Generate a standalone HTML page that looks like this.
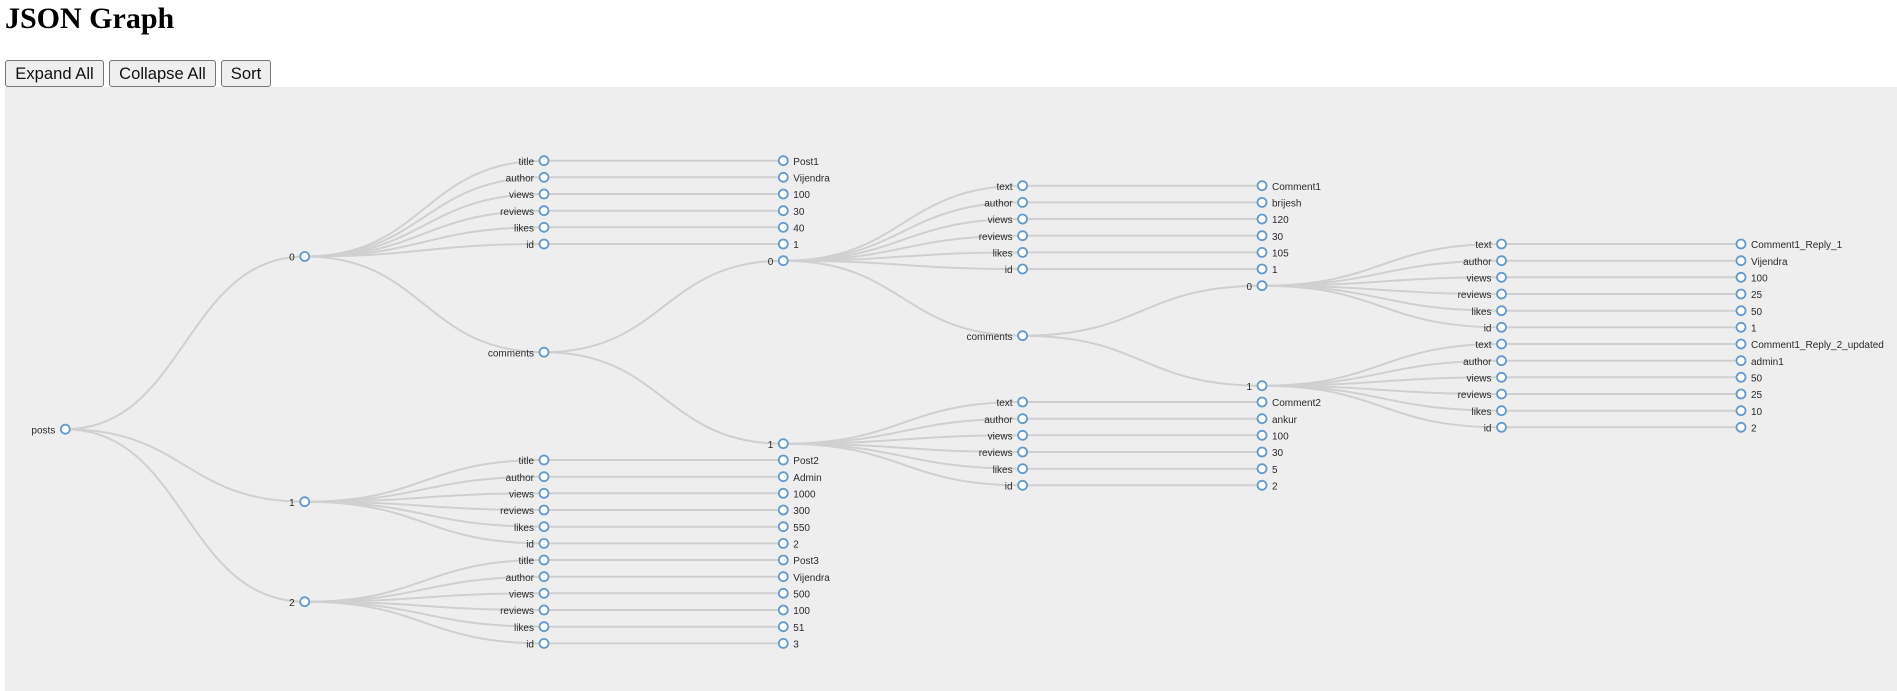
<!DOCTYPE html>
<html>
<head>
<meta charset="utf-8">
<title>JSON Graph</title>
<style>
html,body{margin:0;padding:0;background:#fff;width:1897px;height:691px;overflow:hidden}
h1{position:absolute;left:5px;top:0;margin:0;font:bold 30px/37px "Liberation Serif",serif;color:#000}
button{position:absolute;top:60px;height:27px;padding:0;margin:0;box-sizing:border-box;font:16.6px "Liberation Sans",sans-serif;color:#111;background:#efefef;border:1px solid #767676;border-radius:3px}
svg{position:absolute;left:5px;top:87px;background:#eee}
svg path{fill:none;stroke:#d0d0d0;stroke-width:2px}
svg circle{fill:#fff;stroke:#6699cc;stroke-width:1.8px}
svg text{font:10px "Liberation Sans",sans-serif;fill:#2a2a2a}
.e{text-anchor:end}
.b{filter:blur(.35px)}
</style>
</head>
<body>
<h1>JSON Graph</h1>
<button style="left:5px;width:99px">Expand All</button>
<button style="left:109px;width:107px">Collapse All</button>
<button style="left:221px;width:50px">Sort</button>
<svg width="1892" height="604" viewBox="5 87 1892 604">
<g class="b">
<path d="M65.3 429.2C185 429.2 185 256.5 304.7 256.5"/>
<path d="M65.3 429.2C185 429.2 185 501.7 304.7 501.7"/>
<path d="M65.3 429.2C185 429.2 185 601.7 304.7 601.7"/>

<path d="M304.7 256.5C424.3 256.5 424.3 160.7 544 160.7"/>
<path d="M304.7 256.5C424.3 256.5 424.3 177.3 544 177.3"/>
<path d="M304.7 256.5C424.3 256.5 424.3 194 544 194"/>
<path d="M304.7 256.5C424.3 256.5 424.3 210.7 544 210.7"/>
<path d="M304.7 256.5C424.3 256.5 424.3 227.3 544 227.3"/>
<path d="M304.7 256.5C424.3 256.5 424.3 244 544 244"/>
<path d="M304.7 256.5C424.3 256.5 424.3 352.2 544 352.2"/>

<path d="M304.7 501.7C424.3 501.7 424.3 460 544 460"/>
<path d="M304.7 501.7C424.3 501.7 424.3 476.7 544 476.7"/>
<path d="M304.7 501.7C424.3 501.7 424.3 493.3 544 493.3"/>
<path d="M304.7 501.7C424.3 501.7 424.3 510 544 510"/>
<path d="M304.7 501.7C424.3 501.7 424.3 526.7 544 526.7"/>
<path d="M304.7 501.7C424.3 501.7 424.3 543.4 544 543.4"/>

<path d="M304.7 601.7C424.3 601.7 424.3 560 544 560"/>
<path d="M304.7 601.7C424.3 601.7 424.3 576.7 544 576.7"/>
<path d="M304.7 601.7C424.3 601.7 424.3 593.3 544 593.3"/>
<path d="M304.7 601.7C424.3 601.7 424.3 610 544 610"/>
<path d="M304.7 601.7C424.3 601.7 424.3 626.7 544 626.7"/>
<path d="M304.7 601.7C424.3 601.7 424.3 643.4 544 643.4"/>

<path d="M544 160.7H783.3"/><path d="M544 177.3H783.3"/><path d="M544 194H783.3"/><path d="M544 210.7H783.3"/><path d="M544 227.3H783.3"/><path d="M544 244H783.3"/>
<path d="M544 460H783.3"/><path d="M544 476.7H783.3"/><path d="M544 493.3H783.3"/><path d="M544 510H783.3"/><path d="M544 526.7H783.3"/><path d="M544 543.4H783.3"/>
<path d="M544 560H783.3"/><path d="M544 576.7H783.3"/><path d="M544 593.3H783.3"/><path d="M544 610H783.3"/><path d="M544 626.7H783.3"/><path d="M544 643.4H783.3"/>

<path d="M544 352.2C663.7 352.2 663.7 260.7 783.3 260.7"/>
<path d="M544 352.2C663.7 352.2 663.7 443.7 783.3 443.7"/>

<path d="M783.3 260.7C903 260.7 903 185.7 1022.6 185.7"/>
<path d="M783.3 260.7C903 260.7 903 202.4 1022.6 202.4"/>
<path d="M783.3 260.7C903 260.7 903 219 1022.6 219"/>
<path d="M783.3 260.7C903 260.7 903 235.7 1022.6 235.7"/>
<path d="M783.3 260.7C903 260.7 903 252.4 1022.6 252.4"/>
<path d="M783.3 260.7C903 260.7 903 269 1022.6 269"/>
<path d="M783.3 260.7C903 260.7 903 335.7 1022.6 335.7"/>

<path d="M783.3 443.7C903 443.7 903 402 1022.6 402"/>
<path d="M783.3 443.7C903 443.7 903 418.7 1022.6 418.7"/>
<path d="M783.3 443.7C903 443.7 903 435.3 1022.6 435.3"/>
<path d="M783.3 443.7C903 443.7 903 452 1022.6 452"/>
<path d="M783.3 443.7C903 443.7 903 468.7 1022.6 468.7"/>
<path d="M783.3 443.7C903 443.7 903 485.3 1022.6 485.3"/>

<path d="M1022.6 185.7H1262"/><path d="M1022.6 202.4H1262"/><path d="M1022.6 219H1262"/><path d="M1022.6 235.7H1262"/><path d="M1022.6 252.4H1262"/><path d="M1022.6 269H1262"/>
<path d="M1022.6 402H1262"/><path d="M1022.6 418.7H1262"/><path d="M1022.6 435.3H1262"/><path d="M1022.6 452H1262"/><path d="M1022.6 468.7H1262"/><path d="M1022.6 485.3H1262"/>

<path d="M1022.6 335.7C1142.3 335.7 1142.3 285.7 1262 285.7"/>
<path d="M1022.6 335.7C1142.3 335.7 1142.3 385.7 1262 385.7"/>

<path d="M1262 285.7C1381.7 285.7 1381.7 244 1501.5 244"/>
<path d="M1262 285.7C1381.7 285.7 1381.7 260.7 1501.5 260.7"/>
<path d="M1262 285.7C1381.7 285.7 1381.7 277.3 1501.5 277.3"/>
<path d="M1262 285.7C1381.7 285.7 1381.7 294 1501.5 294"/>
<path d="M1262 285.7C1381.7 285.7 1381.7 310.7 1501.5 310.7"/>
<path d="M1262 285.7C1381.7 285.7 1381.7 327.3 1501.5 327.3"/>

<path d="M1262 385.7C1381.7 385.7 1381.7 344 1501.5 344"/>
<path d="M1262 385.7C1381.7 385.7 1381.7 360.7 1501.5 360.7"/>
<path d="M1262 385.7C1381.7 385.7 1381.7 377.3 1501.5 377.3"/>
<path d="M1262 385.7C1381.7 385.7 1381.7 394 1501.5 394"/>
<path d="M1262 385.7C1381.7 385.7 1381.7 410.7 1501.5 410.7"/>
<path d="M1262 385.7C1381.7 385.7 1381.7 427.3 1501.5 427.3"/>

<path d="M1501.5 244H1741"/><path d="M1501.5 260.7H1741"/><path d="M1501.5 277.3H1741"/><path d="M1501.5 294H1741"/><path d="M1501.5 310.7H1741"/><path d="M1501.5 327.3H1741"/>
<path d="M1501.5 344H1741"/><path d="M1501.5 360.7H1741"/><path d="M1501.5 377.3H1741"/><path d="M1501.5 394H1741"/><path d="M1501.5 410.7H1741"/><path d="M1501.5 427.3H1741"/>
</g>
<g class="b">
<circle cx="65.3" cy="429.2" r="4.5"/>
<circle cx="304.7" cy="256.5" r="4.5"/><circle cx="304.7" cy="501.7" r="4.5"/><circle cx="304.7" cy="601.7" r="4.5"/>

<circle cx="544" cy="160.7" r="4.5"/><circle cx="544" cy="177.3" r="4.5"/><circle cx="544" cy="194" r="4.5"/><circle cx="544" cy="210.7" r="4.5"/><circle cx="544" cy="227.3" r="4.5"/><circle cx="544" cy="244" r="4.5"/>
<circle cx="544" cy="352.2" r="4.5"/>
<circle cx="544" cy="460" r="4.5"/><circle cx="544" cy="476.7" r="4.5"/><circle cx="544" cy="493.3" r="4.5"/><circle cx="544" cy="510" r="4.5"/><circle cx="544" cy="526.7" r="4.5"/><circle cx="544" cy="543.4" r="4.5"/>
<circle cx="544" cy="560" r="4.5"/><circle cx="544" cy="576.7" r="4.5"/><circle cx="544" cy="593.3" r="4.5"/><circle cx="544" cy="610" r="4.5"/><circle cx="544" cy="626.7" r="4.5"/><circle cx="544" cy="643.4" r="4.5"/>

<circle cx="783.3" cy="160.7" r="4.5"/><circle cx="783.3" cy="177.3" r="4.5"/><circle cx="783.3" cy="194" r="4.5"/><circle cx="783.3" cy="210.7" r="4.5"/><circle cx="783.3" cy="227.3" r="4.5"/><circle cx="783.3" cy="244" r="4.5"/>
<circle cx="783.3" cy="260.7" r="4.5"/><circle cx="783.3" cy="443.7" r="4.5"/>
<circle cx="783.3" cy="460" r="4.5"/><circle cx="783.3" cy="476.7" r="4.5"/><circle cx="783.3" cy="493.3" r="4.5"/><circle cx="783.3" cy="510" r="4.5"/><circle cx="783.3" cy="526.7" r="4.5"/><circle cx="783.3" cy="543.4" r="4.5"/>
<circle cx="783.3" cy="560" r="4.5"/><circle cx="783.3" cy="576.7" r="4.5"/><circle cx="783.3" cy="593.3" r="4.5"/><circle cx="783.3" cy="610" r="4.5"/><circle cx="783.3" cy="626.7" r="4.5"/><circle cx="783.3" cy="643.4" r="4.5"/>

<circle cx="1022.6" cy="185.7" r="4.5"/><circle cx="1022.6" cy="202.4" r="4.5"/><circle cx="1022.6" cy="219" r="4.5"/><circle cx="1022.6" cy="235.7" r="4.5"/><circle cx="1022.6" cy="252.4" r="4.5"/><circle cx="1022.6" cy="269" r="4.5"/>
<circle cx="1022.6" cy="335.7" r="4.5"/>
<circle cx="1022.6" cy="402" r="4.5"/><circle cx="1022.6" cy="418.7" r="4.5"/><circle cx="1022.6" cy="435.3" r="4.5"/><circle cx="1022.6" cy="452" r="4.5"/><circle cx="1022.6" cy="468.7" r="4.5"/><circle cx="1022.6" cy="485.3" r="4.5"/>

<circle cx="1262" cy="185.7" r="4.5"/><circle cx="1262" cy="202.4" r="4.5"/><circle cx="1262" cy="219" r="4.5"/><circle cx="1262" cy="235.7" r="4.5"/><circle cx="1262" cy="252.4" r="4.5"/><circle cx="1262" cy="269" r="4.5"/>
<circle cx="1262" cy="285.7" r="4.5"/><circle cx="1262" cy="385.7" r="4.5"/>
<circle cx="1262" cy="402" r="4.5"/><circle cx="1262" cy="418.7" r="4.5"/><circle cx="1262" cy="435.3" r="4.5"/><circle cx="1262" cy="452" r="4.5"/><circle cx="1262" cy="468.7" r="4.5"/><circle cx="1262" cy="485.3" r="4.5"/>

<circle cx="1501.5" cy="244" r="4.5"/><circle cx="1501.5" cy="260.7" r="4.5"/><circle cx="1501.5" cy="277.3" r="4.5"/><circle cx="1501.5" cy="294" r="4.5"/><circle cx="1501.5" cy="310.7" r="4.5"/><circle cx="1501.5" cy="327.3" r="4.5"/>
<circle cx="1501.5" cy="344" r="4.5"/><circle cx="1501.5" cy="360.7" r="4.5"/><circle cx="1501.5" cy="377.3" r="4.5"/><circle cx="1501.5" cy="394" r="4.5"/><circle cx="1501.5" cy="410.7" r="4.5"/><circle cx="1501.5" cy="427.3" r="4.5"/>

<circle cx="1741" cy="244" r="4.5"/><circle cx="1741" cy="260.7" r="4.5"/><circle cx="1741" cy="277.3" r="4.5"/><circle cx="1741" cy="294" r="4.5"/><circle cx="1741" cy="310.7" r="4.5"/><circle cx="1741" cy="327.3" r="4.5"/>
<circle cx="1741" cy="344" r="4.5"/><circle cx="1741" cy="360.7" r="4.5"/><circle cx="1741" cy="377.3" r="4.5"/><circle cx="1741" cy="394" r="4.5"/><circle cx="1741" cy="410.7" r="4.5"/><circle cx="1741" cy="427.3" r="4.5"/>
</g>
<g class="b" transform="translate(0 .6)">
<text class="e" x="55.3" y="432.7">posts</text>
<text class="e" x="294.7" y="260">0</text><text class="e" x="294.7" y="505.2">1</text><text class="e" x="294.7" y="605.2">2</text>

<text class="e" x="534" y="164.2">title</text><text class="e" x="534" y="180.8">author</text><text class="e" x="534" y="197.5">views</text><text class="e" x="534" y="214.2">reviews</text><text class="e" x="534" y="230.8">likes</text><text class="e" x="534" y="247.5">id</text>
<text class="e" x="534" y="355.7">comments</text>
<text class="e" x="534" y="463.5">title</text><text class="e" x="534" y="480.2">author</text><text class="e" x="534" y="496.8">views</text><text class="e" x="534" y="513.5">reviews</text><text class="e" x="534" y="530.2">likes</text><text class="e" x="534" y="546.9">id</text>
<text class="e" x="534" y="563.5">title</text><text class="e" x="534" y="580.2">author</text><text class="e" x="534" y="596.8">views</text><text class="e" x="534" y="613.5">reviews</text><text class="e" x="534" y="630.2">likes</text><text class="e" x="534" y="646.9">id</text>

<text x="793.3" y="164.2">Post1</text><text x="793.3" y="180.8">Vijendra</text><text x="793.3" y="197.5">100</text><text x="793.3" y="214.2">30</text><text x="793.3" y="230.8">40</text><text x="793.3" y="247.5">1</text>
<text class="e" x="773.3" y="264.2">0</text><text class="e" x="773.3" y="447.2">1</text>
<text x="793.3" y="463.5">Post2</text><text x="793.3" y="480.2">Admin</text><text x="793.3" y="496.8">1000</text><text x="793.3" y="513.5">300</text><text x="793.3" y="530.2">550</text><text x="793.3" y="546.9">2</text>
<text x="793.3" y="563.5">Post3</text><text x="793.3" y="580.2">Vijendra</text><text x="793.3" y="596.8">500</text><text x="793.3" y="613.5">100</text><text x="793.3" y="630.2">51</text><text x="793.3" y="646.9">3</text>

<text class="e" x="1012.6" y="189.2">text</text><text class="e" x="1012.6" y="205.9">author</text><text class="e" x="1012.6" y="222.5">views</text><text class="e" x="1012.6" y="239.2">reviews</text><text class="e" x="1012.6" y="255.9">likes</text><text class="e" x="1012.6" y="272.5">id</text>
<text class="e" x="1012.6" y="339.2">comments</text>
<text class="e" x="1012.6" y="405.5">text</text><text class="e" x="1012.6" y="422.2">author</text><text class="e" x="1012.6" y="438.8">views</text><text class="e" x="1012.6" y="455.5">reviews</text><text class="e" x="1012.6" y="472.2">likes</text><text class="e" x="1012.6" y="488.8">id</text>

<text x="1272" y="189.2">Comment1</text><text x="1272" y="205.9">brijesh</text><text x="1272" y="222.5">120</text><text x="1272" y="239.2">30</text><text x="1272" y="255.9">105</text><text x="1272" y="272.5">1</text>
<text class="e" x="1252" y="289.2">0</text><text class="e" x="1252" y="389.2">1</text>
<text x="1272" y="405.5">Comment2</text><text x="1272" y="422.2">ankur</text><text x="1272" y="438.8">100</text><text x="1272" y="455.5">30</text><text x="1272" y="472.2">5</text><text x="1272" y="488.8">2</text>

<text class="e" x="1491.5" y="247.5">text</text><text class="e" x="1491.5" y="264.2">author</text><text class="e" x="1491.5" y="280.8">views</text><text class="e" x="1491.5" y="297.5">reviews</text><text class="e" x="1491.5" y="314.2">likes</text><text class="e" x="1491.5" y="330.8">id</text>
<text class="e" x="1491.5" y="347.5">text</text><text class="e" x="1491.5" y="364.2">author</text><text class="e" x="1491.5" y="380.8">views</text><text class="e" x="1491.5" y="397.5">reviews</text><text class="e" x="1491.5" y="414.2">likes</text><text class="e" x="1491.5" y="430.8">id</text>

<text x="1751" y="247.5">Comment1_Reply_1</text><text x="1751" y="264.2">Vijendra</text><text x="1751" y="280.8">100</text><text x="1751" y="297.5">25</text><text x="1751" y="314.2">50</text><text x="1751" y="330.8">1</text>
<text x="1751" y="347.5">Comment1_Reply_2_updated</text><text x="1751" y="364.2">admin1</text><text x="1751" y="380.8">50</text><text x="1751" y="397.5">25</text><text x="1751" y="414.2">10</text><text x="1751" y="430.8">2</text>
</g>
</svg>
</body>
</html>
